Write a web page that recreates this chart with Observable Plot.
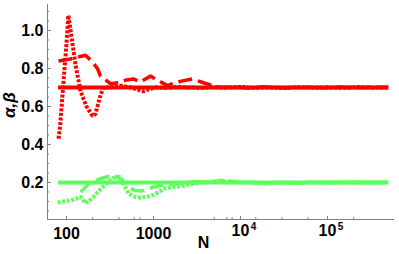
<!DOCTYPE html>
<html>
<head>
<meta charset="utf-8">
<script src="https://cdn.jsdelivr.net/npm/d3@7"></script>
<script src="https://cdn.jsdelivr.net/npm/@observablehq/plot@0.6"></script>
<style>
  html, body { margin: 0; padding: 0; background: #fff; }
  #chart svg { display: block; }
</style>
</head>
<body>
<div id="chart"></div>
<script>
// ---- data ----
const trueN = [80, 500000];
const alphaTrue = 0.7;
const betaTrue = 0.2;

// red dotted estimate
const redDotN = [81, 85, 92, 100, 105, 114, 127, 145, 170, 199, 215, 246, 266, 320, 417, 545, 708, 768, 875, 1055, 1400, 1900, 2600, 3500, 5000, 7000, 10000, 14000, 20000, 30000, 45000, 70000, 100000, 150000, 220000, 330000, 500000];
const redDotV = [0.43, 0.51, 0.72, 0.93, 1.08, 0.97, 0.82, 0.68, 0.60, 0.55, 0.56, 0.66, 0.70, 0.70, 0.71, 0.70, 0.685, 0.68, 0.69, 0.70, 0.698, 0.703, 0.70, 0.697, 0.702, 0.699, 0.703, 0.698, 0.701, 0.697, 0.702, 0.699, 0.701, 0.698, 0.702, 0.699, 0.70];

// red dashed estimate
const redDashN = [81, 111, 134, 165, 194, 227, 246, 281, 320, 396, 490, 588, 708, 809, 925, 1144, 1450, 1655, 2160, 2805, 3760, 4760, 5890, 8000, 12000, 18000, 27000, 40000, 60000, 90000, 140000, 210000, 320000, 500000];
const redDashV = [0.84, 0.85, 0.86, 0.87, 0.84, 0.80, 0.76, 0.74, 0.72, 0.725, 0.74, 0.745, 0.73, 0.745, 0.76, 0.735, 0.71, 0.72, 0.735, 0.745, 0.725, 0.71, 0.70, 0.703, 0.698, 0.702, 0.70, 0.697, 0.701, 0.699, 0.702, 0.698, 0.701, 0.70];

// green dashed estimate
const greenDashN = [145, 165, 189, 227, 266, 320, 385, 440, 502, 588, 708, 830, 974, 1205, 1570, 2050, 3030, 4500, 6000, 7500, 10000, 14000, 20000, 30000, 45000, 70000, 100000, 150000, 220000, 330000, 500000];
const greenDashV = [0.15, 0.175, 0.205, 0.215, 0.225, 0.235, 0.23, 0.21, 0.185, 0.16, 0.155, 0.16, 0.175, 0.185, 0.19, 0.195, 0.205, 0.203, 0.21, 0.208, 0.202, 0.2, 0.196, 0.2, 0.198, 0.201, 0.199, 0.2, 0.202, 0.199, 0.2];

// green dotted estimate
const greenDotN = [79, 92, 111, 130, 145, 165, 189, 215, 246, 281, 320, 366, 406, 452, 516, 604, 708, 851, 1000, 1205, 1374, 1655, 2050, 2660, 3480, 5140, 5890, 7660, 10000, 14000, 20000, 30000, 45000, 70000, 100000, 150000, 220000, 330000, 500000];
const greenDotV = [0.095, 0.10, 0.105, 0.115, 0.125, 0.09, 0.11, 0.135, 0.165, 0.19, 0.215, 0.23, 0.23, 0.195, 0.14, 0.125, 0.12, 0.125, 0.135, 0.155, 0.17, 0.175, 0.18, 0.19, 0.20, 0.205, 0.21, 0.20, 0.203, 0.198, 0.195, 0.2, 0.197, 0.201, 0.199, 0.202, 0.198, 0.2, 0.201];

// axis ticks
const yMajor = [0.2, 0.4, 0.6, 0.8, 1.0];
const yMinor = d3.range(1, 23).map(i => i * 0.05);
const xLabeled = [100, 1000];
const xMajor = [100, 1000, 10000, 100000];
const xMinor = [200, 400, 600, 700, 5000, 7000, 8000, 15000, 30000, 60000, 200000];
const xPowers = [{N: 10000, base: "10", exp: "4"}, {N: 100000, base: "10", exp: "5"}];
const yTitle = "α,β";
const xTitle = "N";

const red = "#ff0000";
const green = "#5cff5c";
const font = "'Liberation Sans', Arial, sans-serif";

const toRows = (ns, vs) => ns.map((n, i) => ({N: n, v: vs[i]}));
const dashed = {strokeWidth: 3.5, strokeDasharray: "14,6", strokeLinecap: "butt", strokeLinejoin: "miter"};
const dotted = {strokeWidth: 4, strokeDasharray: "3,1.6", strokeLinecap: "butt", strokeLinejoin: "miter"};

const chart = Plot.plot({
  width: 399,
  height: 254,
  marginLeft: 47,
  marginRight: 6,
  marginTop: 4,
  marginBottom: 35,
  style: {fontFamily: font, background: "#fff"},
  x: {type: "log", domain: [60.5, 574000]},
  y: {domain: [0.005, 1.137]},
  marks: [
    Plot.frame({anchor: "left", stroke: "#808080"}),
    Plot.frame({anchor: "bottom", stroke: "#808080"}),
    Plot.axisY(yMinor, {tickSize: -2, tickFormat: () => "", stroke: "#808080", label: null}),
    Plot.axisY(yMajor, {tickSize: -4, tickPadding: 8, tickFormat: d3.format(".1f"), stroke: "#808080",
      fontSize: 16, fontWeight: "bold", fill: "#000", label: null}),
    Plot.axisX(xMinor, {tickSize: -2, tickFormat: () => "", stroke: "#808080", label: null}),
    Plot.axisX(xMajor, {tickSize: -3, tickPadding: 11, tickFormat: d => xLabeled.includes(d) ? String(d) : "",
      stroke: "#808080", fontSize: 16, fontWeight: "bold", fill: "#000", label: null}),
    Plot.text(xPowers, {x: "N", frameAnchor: "bottom", text: "base", dy: 16, fontSize: 16, fontWeight: "bold", fill: "#000"}),
    Plot.text(xPowers, {x: "N", frameAnchor: "bottom", text: "exp", dy: 10, dx: 13, fontSize: 10, fontWeight: "bold", fill: "#000"}),
    Plot.text([xTitle], {frameAnchor: "bottom", text: d => d, dy: 28, dx: -17, fontSize: 16, fontWeight: "bold", fill: "#000"}),
    Plot.text([yTitle], {frameAnchor: "left", text: d => d, dx: -38, dy: 6, rotate: -90, fontSize: 17, fontWeight: "bold", fontStyle: "italic", fill: "#000"}),

    Plot.line(trueN.map(n => ({N: n, v: alphaTrue})), {x: "N", y: "v", stroke: red, strokeWidth: 4, strokeLinecap: "butt"}),
    Plot.line(trueN.map(n => ({N: n, v: betaTrue})), {x: "N", y: "v", stroke: green, strokeWidth: 4, strokeLinecap: "butt"}),
    Plot.line(toRows(redDashN, redDashV), {x: "N", y: "v", stroke: red, ...dashed}),
    Plot.line(toRows(greenDashN, greenDashV), {x: "N", y: "v", stroke: green, ...dashed}),
    Plot.line(toRows(redDotN, redDotV), {x: "N", y: "v", stroke: red, ...dotted}),
    Plot.line(toRows(greenDotN, greenDotV), {x: "N", y: "v", stroke: green, ...dotted})
  ]
});
document.getElementById("chart").appendChild(chart);
</script>
</body>
</html>
